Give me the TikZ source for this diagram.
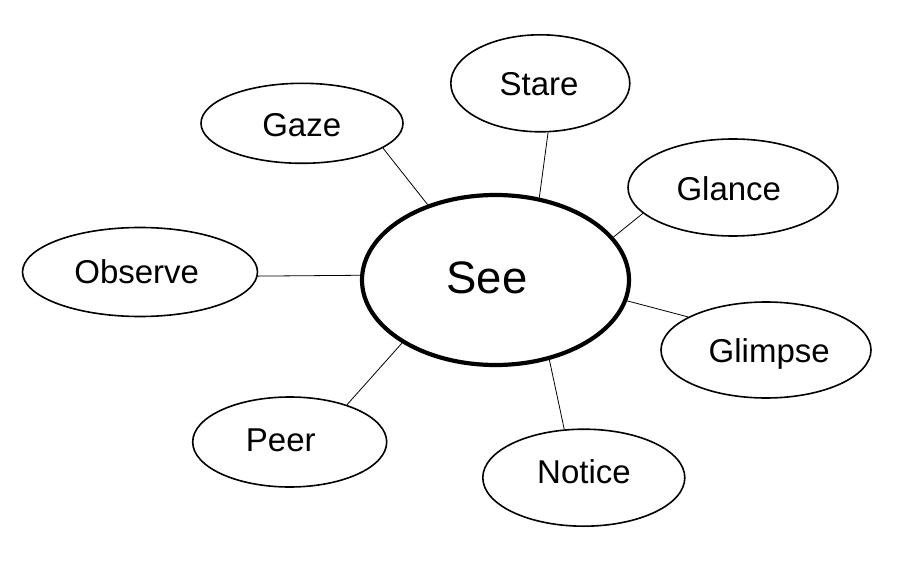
\documentclass[tikz,border=0pt]{standalone}
\usepackage{fontspec}
\setmainfont{Liberation Sans}
\usetikzlibrary{shapes.geometric}

\tikzset{
	word/.style={draw, ellipse, line width=1.6pt, inner sep=0pt},
	hub/.style={draw, ellipse, line width=4.2pt, inner sep=0pt},
	wordtext/.style={anchor=base, inner sep=0pt, font=\fontsize{33}{40}\selectfont},
	hubtext/.style={anchor=base, inner sep=0pt, font=\fontsize{45.5}{54}\selectfont},
	link/.style={line width=0.8pt}
}

\begin{document}
\begin{tikzpicture}[x=1pt, y=-1pt]
			%%%%% START %%%%%
			
			\useasboundingbox (0, 0) rectangle (913, 564);
			
			\node[hub, minimum width=267pt, minimum height=170pt] (see) at (495.5, 280) {};
			\node[hubtext] (see-text) at (487, 293.3) {See};
			
			\node[word, minimum width=179pt, minimum height=97pt] (stare) at (540.3, 83.3) {};
			\node[wordtext] (stare-text) at (539, 95.7) {Stare};
			
			\node[word, minimum width=202pt, minimum height=80pt] (gaze) at (302, 123.3) {};
			\node[wordtext] (gaze-text) at (301.7, 136.7) {Gaze};
			
			\node[word, minimum width=210pt, minimum height=97pt] (glance) at (733, 187.5) {};
			\node[wordtext] (glance-text) at (728.8, 201) {Glance};
			
			\node[word, minimum width=235pt, minimum height=89pt] (observe) at (140, 272) {};
			\node[wordtext] (observe-text) at (136.7, 283.3) {Observe};
			
			\node[word, minimum width=210pt, minimum height=96pt] (glimpse) at (766, 350) {};
			\node[wordtext] (glimpse-text) at (769.2, 362.3) {Glimpse};
			
			\node[word, minimum width=194pt, minimum height=90pt] (peer) at (289.7, 442) {};
			\node[wordtext] (peer-text) at (280.8, 451) {Peer};
			
			\node[word, minimum width=202pt, minimum height=97pt] (notice) at (583.8, 477.7) {};
			\node[wordtext] (notice-text) at (584, 483.3) {Notice};
			
			\draw[link] (gaze.-17.8) -- (see.132.2);
			\draw[link] (stare.-81.5) -- (see.62.4);
			\draw[link] (glance.196.4) -- (see.20.7);
			\draw[link] (observe.-2.3) -- (see.178.6);
			\draw[link] (glimpse.157.6) -- (see.-9);
			\draw[link] (peer.33.6) -- (see.214);
			\draw[link] (notice.112.6) -- (see.-56.2);
			
			%%%%% END %%%%%
\end{tikzpicture}
\end{document}
